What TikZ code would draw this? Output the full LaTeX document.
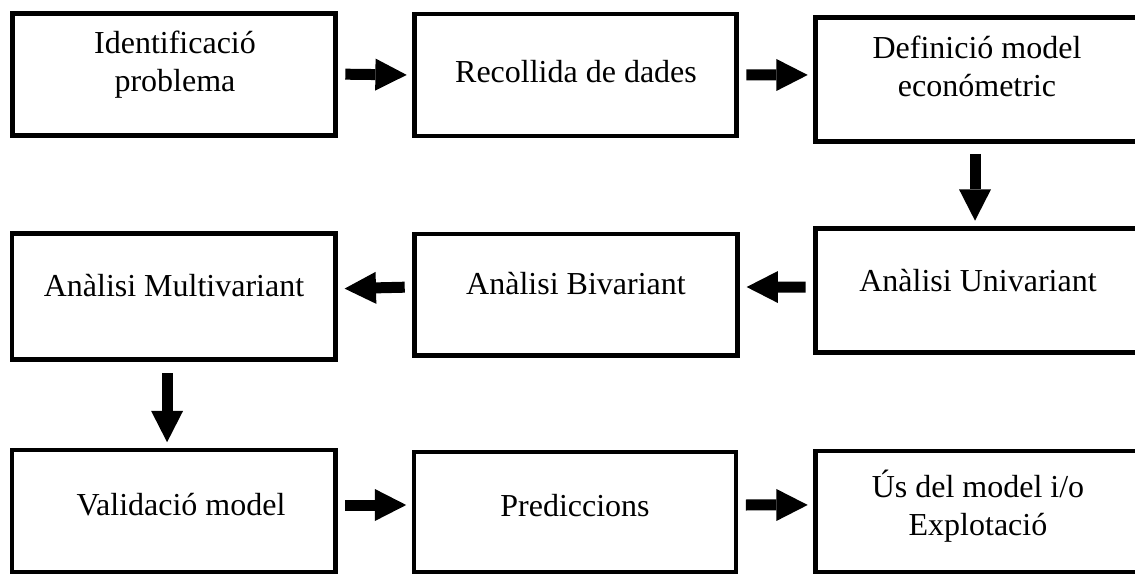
\documentclass[tikz,border=0pt]{standalone}
\usepackage{fontspec}
\setmainfont{Liberation Serif}
\usetikzlibrary{arrows.meta,fit}
\begin{document}
\begin{tikzpicture}[x=0.75pt,y=-0.75pt,
  stagebox/.style={draw=black,line width=3.7pt,inner sep=0pt},
  stagetext/.style={font=\fontsize{24pt}{28.5pt}\selectfont,align=center,anchor=base,inner sep=0pt},
  flow/.style={line width=8.25pt,
    -{Triangle[length=23.5pt,width=24pt,line width=0pt]},
    shorten <=5.5pt,shorten >=4pt}]
\useasboundingbox (0,0) rectangle (1135,574);
\clip (0,0) rectangle (1135,574);

% boxes of the three rows
\node[stagebox,fit={(12.5,13.5) (335.5,135.5)}] (b1) {};
\node[stagebox,fit={(414.5,14) (736.5,136)}] (b2) {};
\node[stagebox,fit={(815.5,17.5) (1142,141.5)}] (b3) {};
\node[stagebox,fit={(12,233.5) (335.5,359.5)}] (b4) {};
\node[stagebox,fit={(414.5,234) (737.5,355.5)}] (b5) {};
\node[stagebox,fit={(815.5,228.5) (1142,352.5)}] (b6) {};
\node[stagebox,fit={(12,450) (335.5,572)}] (b7) {};
\node[stagebox,fit={(414,452) (736,572)}] (b8) {};
\node[stagebox,fit={(815.5,451) (1142,572)}] (b9) {};

% labels (base anchor = baseline of the last line)
\node[stagetext] (t1) at (175,92) {Identificació\\problema};
\node[stagetext] (t2) at (576,83) {Recollida de dades};
\node[stagetext] (t3) at (977,97) {Definició model\\económetric};
\node[stagetext] (t4) at (174,296) {Anàlisi Multivariant};
\node[stagetext] (t5) at (576,294) {Anàlisi Bivariant};
\node[stagetext] (t6) at (978,291) {Anàlisi Univariant};
\node[stagetext] (t7) at (181,515) {Validació model};
\node[stagetext] (t8) at (575,516) {Prediccions};
\node[stagetext] (t9) at (978,535) {Ús del model i/o\\Explotació};

% flow arrows
\draw[flow] ([yshift=0.3pt]b1.east) -- ([yshift=0pt]b2.west);
\draw[flow] ([yshift=0pt]b2.east) -- ([yshift=3.4pt]b3.west);
\draw[flow,shorten <=7.5pt] ([xshift=-2.8pt]b3.south) -- ([xshift=-2.8pt]b6.north);
\draw[flow,shorten >=5pt] ([yshift=2.6pt]b6.west) -- ([yshift=5.8pt]b5.east);
\draw[flow,shorten >=5pt] ([yshift=5.8pt]b5.west) -- ([yshift=5.8pt]b4.east);
\draw[flow,shorten <=8.5pt] ([xshift=-5pt]b4.south) -- ([xshift=-5pt]b7.north);
\draw[flow] ([yshift=4.5pt]b7.east) -- ([yshift=5.25pt]b8.west);
\draw[flow] ([yshift=5.25pt]b8.east) -- ([yshift=4.9pt]b9.west);
\end{tikzpicture}
\end{document}
